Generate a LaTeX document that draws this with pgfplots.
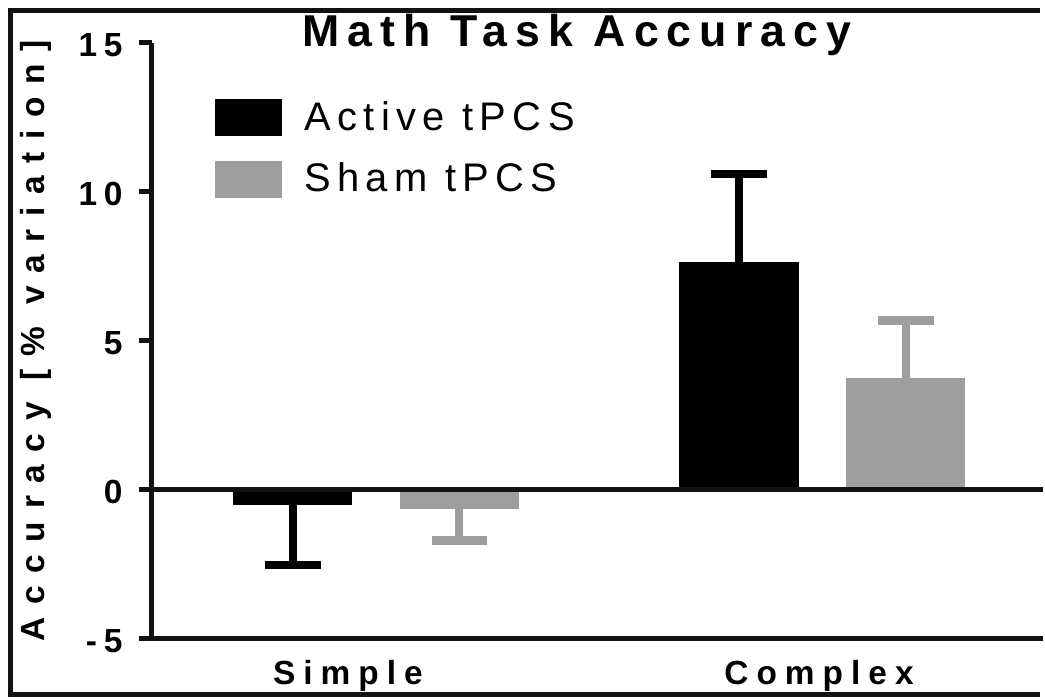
\documentclass[border=0pt]{standalone}
\usepackage{fontspec}
\setmainfont{Liberation Sans}
\newfontfamily\titlefont[LetterSpace=18]{Liberation Sans}
\newfontfamily\legfont[LetterSpace=16]{Liberation Sans}
\newfontfamily\catfont[LetterSpace=24]{Liberation Sans}
\newfontfamily\ylabfont[LetterSpace=38]{Liberation Sans}
\newfontfamily\tickfont[LetterSpace=20]{Liberation Sans}
\usepackage{pgfplots}
\pgfplotsset{compat=1.18}
\definecolor{ShamGray}{RGB}{158,158,158}
\definecolor{LineBlack}{RGB}{18,18,18}

\begin{document}
\begin{tikzpicture}
\begin{axis}[
    scale only axis,
    width=357.2pt,
    height=238.8pt,
    xmin=-0.503, xmax=1.494,
    ymin=-5, ymax=15,
    clip=false,
    axis on top,
    axis x line=bottom,
    axis y line=left,
    axis line style={-, line width=2pt, LineBlack},
    ytick={-5,0,5,10,15},
    xtick={-0.063,0.993},
    xticklabels={Simple,Complex},
    x tick style={draw=none},
    y tick style={line width=2pt, LineBlack},
    tick align=outside,
    major tick length=5.2pt,
    extra y ticks={0},
    extra y tick labels={},
    extra y tick style={grid=major},
    major grid style={line width=2pt, LineBlack},
    /pgf/number format/assume math mode=true,
    yticklabel style={font=\tickfont\bfseries\fontsize{13.4}{15}\selectfont, xshift=-3pt, yshift=-1pt},
    xticklabel style={font=\catfont\bfseries\fontsize{13.4}{15}\selectfont},
    title={\titlefont\bfseries Math Task Accuracy},
    title style={at={(axis description cs:0.477,0.9933)}, anchor=base, yshift=-6pt,
        inner sep=0pt, font=\fontsize{17.9}{20}\selectfont},
    ylabel={\ylabfont\bfseries Accuracy [\% variation]},
    ylabel style={at={(axis description cs:-0.13,0.5)}, anchor=center,
        font=\fontsize{13.4}{16}\selectfont},
    ybar,
    bar width=48pt,
    bar shift=0pt,
    legend style={at={(axis description cs:0.0706,0.911)}, anchor=north west,
        draw=none, fill=none, inner sep=0pt, row sep=7.6pt, column sep=7pt,
        font=\legfont\fontsize{16}{18}\selectfont},
    legend cell align=left,
    legend image code/.code={\fill[#1] (0pt,-7.4pt) rectangle (26.8pt,7.4pt);},
]
% Simple: bars below zero, error bars downward
\addplot[fill=black, draw=none,
    error bars/.cd, y dir=minus, y explicit,
    error bar style={draw=black, line width=3.2pt},
    error mark options={draw=black, rotate=90, mark size=11.2pt, line width=3.4pt}]
    coordinates {(-0.187,-0.53) +- (0,2.01)};
\addplot[fill=ShamGray, draw=none,
    error bars/.cd, y dir=minus, y explicit,
    error bar style={draw=ShamGray, line width=3.2pt},
    error mark options={draw=ShamGray, rotate=90, mark size=11.2pt, line width=3.4pt}]
    coordinates {(0.187,-0.64) +- (0,1.07)};
% Complex: bars above zero, error bars upward
\addplot[fill=black, draw=none, forget plot,
    error bars/.cd, y dir=plus, y explicit,
    error bar style={draw=black, line width=3.2pt},
    error mark options={draw=black, rotate=90, mark size=11.2pt, line width=3.4pt}]
    coordinates {(0.813,7.65) +- (0,2.95)};
\addplot[fill=ShamGray, draw=none, forget plot,
    error bars/.cd, y dir=plus, y explicit,
    error bar style={draw=ShamGray, line width=3.2pt},
    error mark options={draw=ShamGray, rotate=90, mark size=11.2pt, line width=3.4pt}]
    coordinates {(1.187,3.76) +- (0,1.91)};
\legend{Active tPCS, Sham tPCS}
% corners of the figure frame
\coordinate (fTL) at ([xshift=-56.6pt,yshift=13pt]rel axis cs:0,1);
\coordinate (fTR) at ([xshift=-2pt,yshift=13pt]rel axis cs:1,1);
\coordinate (fBL) at ([xshift=-56.6pt,yshift=-22.4pt]rel axis cs:0,0);
\coordinate (fBR) at ([xshift=-2pt,yshift=-22.4pt]rel axis cs:1,0);
\coordinate (bbTL) at ([xshift=-60.8pt,yshift=17.2pt]rel axis cs:0,1);
\coordinate (bbBL) at ([xshift=-60.8pt,yshift=-23.2pt]rel axis cs:0,0);
\coordinate (bbR) at (rel axis cs:1,0);
\end{axis}
% frame, open on the right
\draw[line width=2pt, line cap=rect, LineBlack] (fTL) -- (fTR);
\draw[line width=2pt, line cap=rect, LineBlack] (fTL) -- (fBL);
\draw[line width=2pt, line cap=rect, LineBlack] (fBL) -- (fBR);
\path (bbTL) (bbBL) (bbR);
\end{tikzpicture}
\end{document}
